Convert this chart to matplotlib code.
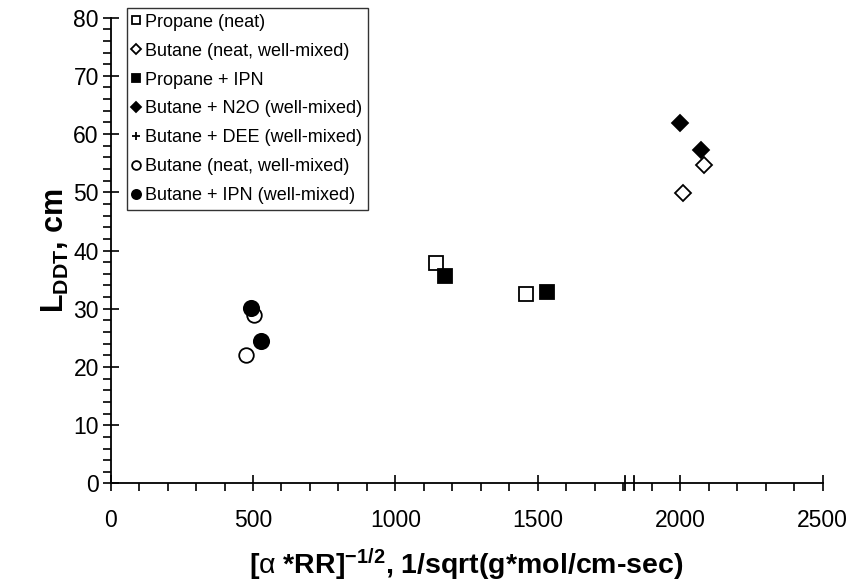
import matplotlib
matplotlib.use("Agg")
from matplotlib import pyplot as plt
import matplotlib.transforms as mtransforms
from matplotlib.ticker import MultipleLocator

# data
propane_neat_x = [1141, 1458]
propane_neat_y = [37.8, 32.6]

butane_neat_d_x = [2083, 2011]
butane_neat_d_y = [54.7, 49.8]

propane_ipn_x = [1175, 1531]
propane_ipn_y = [35.7, 32.9]

butane_n2o_x = [1999, 2072]
butane_n2o_y = [61.9, 57.3]

butane_dee_x = []
butane_dee_y = []

butane_neat_o_x = [503, 475]
butane_neat_o_y = [29.0, 22.0]

butane_ipn_x = [492.6, 526.7]
butane_ipn_y = [30.2, 24.5]

x_ticks = [0, 500, 1000, 1500, 2000, 2500]
y_ticks = [0, 10, 20, 30, 40, 50, 60, 70, 80]

# the two break marks on the x axis
axis_break = [1805, 1838]


def main():
    plt.rcParams['font.family'] = ['Liberation Sans', 'DejaVu Sans']
    plt.rcParams['mathtext.fontset'] = 'custom'
    plt.rcParams['mathtext.rm'] = 'Liberation Sans'
    plt.rcParams['mathtext.bf'] = 'Liberation Sans:bold'
    plt.rcParams['mathtext.it'] = 'Liberation Sans:italic'

    fig = plt.figure(figsize=(8.64, 5.86), dpi=100)
    ax = fig.add_axes([0.128, 0.175, 0.824, 0.795])

    series = [
        (propane_neat_x, propane_neat_y, 's', 'white', 10, 'Propane (neat)'),
        (butane_neat_d_x, butane_neat_d_y, 'D', 'white', 8.5, 'Butane (neat, well-mixed)'),
        (propane_ipn_x, propane_ipn_y, 's', 'black', 10, 'Propane + IPN'),
        (butane_n2o_x, butane_n2o_y, 'D', 'black', 8.5, 'Butane + N2O (well-mixed)'),
        (butane_dee_x, butane_dee_y, '+', 'black', 10, 'Butane + DEE (well-mixed)'),
        (butane_neat_o_x, butane_neat_o_y, 'o', 'white', 10.5, 'Butane (neat, well-mixed)'),
        (butane_ipn_x, butane_ipn_y, 'o', 'black', 11, 'Butane + IPN (well-mixed)'),
    ]
    for xs, ys, m, fc, ms, label in series:
        ax.plot(xs, ys, linestyle='none', marker=m, markersize=ms,
                markerfacecolor=fc, markeredgecolor='black',
                markeredgewidth=1.3, color='black', label=label, clip_on=False)

    ax.set_xlim(0, 2500)
    ax.set_ylim(0, 80)
    ax.set_xticks(x_ticks)
    ax.set_yticks(y_ticks)
    ax.xaxis.set_minor_locator(MultipleLocator(100))
    ax.yaxis.set_minor_locator(MultipleLocator(2))

    for s in ['top', 'right']:
        ax.spines[s].set_visible(False)
    for s in ['left', 'bottom']:
        ax.spines[s].set_linewidth(1.3)

    ax.tick_params(which='major', direction='inout', length=11, width=1.2,
                   labelsize=16.5)
    ax.tick_params(axis='x', which='major', pad=13)
    ax.tick_params(axis='y', which='major', pad=3)
    ax.tick_params(which='minor', direction='out', length=5.5, width=1.2)

    # axis break marks
    trans = mtransforms.blended_transform_factory(ax.transData, ax.transAxes)
    for xb in axis_break:
        ax.plot([xb, xb], [-0.015, 0.015], color='black', lw=1.3,
                transform=trans, clip_on=False)

    ax.set_xlabel(r'[$\mathrm{\alpha}$ *RR]$^{\mathbf{-1/2}}$, 1/sqrt(g*mol/cm-sec)',
                  fontsize=20.5, fontweight='bold', labelpad=10)
    ax.set_ylabel(r'$\mathbf{L_{DDT}}$, cm', fontsize=22, fontweight='bold',
                  labelpad=2)

    leg = ax.legend(loc='upper left', bbox_to_anchor=(0.023, 1.02),
                    fontsize=13, markerscale=0.6, handlelength=0.4,
                    handletextpad=0.3, labelspacing=0.66, borderpad=0.3,
                    borderaxespad=0, frameon=True, fancybox=False)
    leg.get_frame().set_edgecolor('black')
    leg.get_frame().set_linewidth(1.0)

    fig.savefig('out.png', dpi=100)


if __name__ == "__main__":
    main()
